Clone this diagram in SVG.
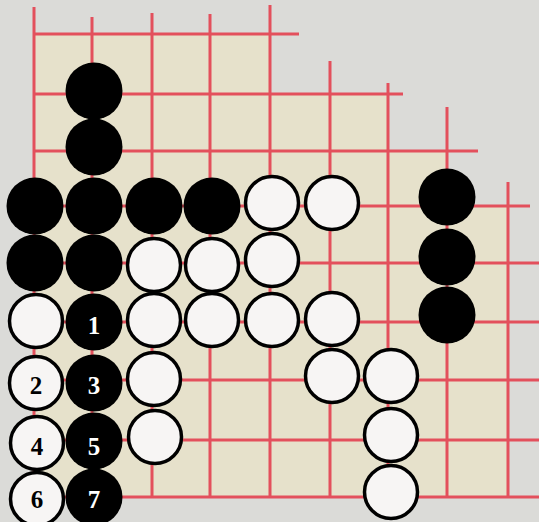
<svg xmlns="http://www.w3.org/2000/svg" width="539" height="522" viewBox="0 0 539 522">
<style>
.g{stroke:#e3505c;stroke-width:3;fill:none;stroke-linecap:butt}
.b{fill:#000}
.w{fill:#f7f5f4;stroke:#000;stroke-width:3.5}
.nb{font-family:"Liberation Serif",serif;font-weight:bold;font-size:25px;fill:#fff;text-anchor:middle}
.nw{font-family:"Liberation Serif",serif;font-weight:bold;font-size:25px;fill:#000;text-anchor:middle}
</style>
<rect width="539" height="522" fill="#dbdbd8"/>
<polygon points="34,34 270,34 270,94 388,94 388,151 447,151 447,206 508,206 508,497 34,497" fill="#e6e1cb"/>
<g id="grid" class="g">
<path d="M34,34H299M34,94H403M34,151H478M34,206H530M34,263H539M34,322H539M34,380H539M34,440H539M34,497H539"/>
<path d="M34,7V497M92,17V497M152,13V497M210,14V497M270,5V497M330,61V497M388,83V497M447,107V497M508,182V497"/>
</g>
<g id="black-stones">
<circle class="b" cx="94" cy="91" r="28.5"/>
<circle class="b" cx="94" cy="147" r="28.5"/>
<circle class="b" cx="35" cy="206" r="28.5"/>
<circle class="b" cx="94" cy="206" r="28.5"/>
<circle class="b" cx="154" cy="206" r="28.5"/>
<circle class="b" cx="212" cy="206" r="28.5"/>
<circle class="b" cx="35" cy="263" r="28.5"/>
<circle class="b" cx="94" cy="263" r="28.5"/>
<circle class="b" cx="447" cy="197" r="28.5"/>
<circle class="b" cx="447" cy="257" r="28.5"/>
<circle class="b" cx="447" cy="315" r="28.5"/>
</g>
<g id="white-stones">
<circle class="w" cx="272" cy="203" r="26.5"/>
<circle class="w" cx="332" cy="203" r="26.5"/>
<circle class="w" cx="154" cy="265" r="26.5"/>
<circle class="w" cx="212" cy="265" r="26.5"/>
<circle class="w" cx="272" cy="260" r="26.5"/>
<circle class="w" cx="36" cy="321" r="26.5"/>
<circle class="w" cx="154" cy="320" r="26.5"/>
<circle class="w" cx="212" cy="320" r="26.5"/>
<circle class="w" cx="272" cy="320" r="26.5"/>
<circle class="w" cx="332" cy="319" r="26.5"/>
<circle class="w" cx="154" cy="379" r="26.5"/>
<circle class="w" cx="332" cy="376" r="26.5"/>
<circle class="w" cx="391" cy="376" r="26.5"/>
<circle class="w" cx="155" cy="437" r="26.5"/>
<circle class="w" cx="391" cy="435" r="26.5"/>
<circle class="w" cx="391" cy="492" r="26.5"/>
</g>
<g id="move-1"><circle class="b" cx="94" cy="322" r="28.5"/><text class="nb" x="94" y="334">1</text></g>
<g id="move-2"><circle class="w" cx="36" cy="383" r="26.5"/><text class="nw" x="36" y="394">2</text></g>
<g id="move-3"><circle class="b" cx="94" cy="383" r="28.5"/><text class="nb" x="94" y="394">3</text></g>
<g id="move-4"><circle class="w" cx="37" cy="443" r="26.5"/><text class="nw" x="37" y="455">4</text></g>
<g id="move-5"><circle class="b" cx="94" cy="441" r="28.5"/><text class="nb" x="94" y="455">5</text></g>
<g id="move-6"><circle class="w" cx="37" cy="499" r="26.5"/><text class="nw" x="37" y="508">6</text></g>
<g id="move-7"><circle class="b" cx="94" cy="497" r="28.5"/><text class="nb" x="94" y="508">7</text></g>
</svg>
